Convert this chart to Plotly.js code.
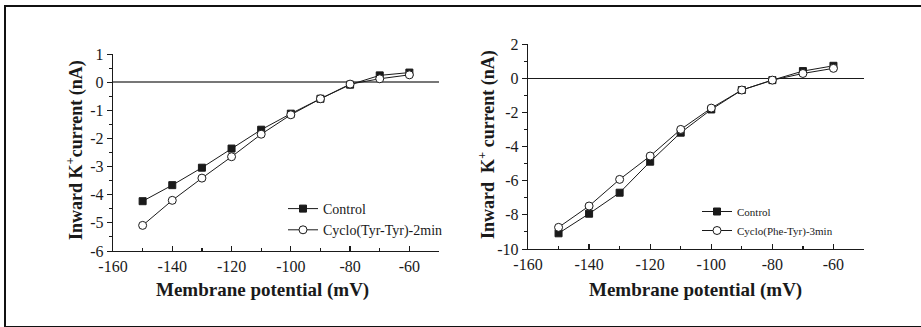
<!DOCTYPE html>
<html>
<head>
<meta charset="utf-8">
<script src="https://cdn.plot.ly/plotly-3.0.1.min.js"></script>
<style>
  html, body { margin: 0; padding: 0; background: #fff; }
  #wrap { position: relative; width: 921px; height: 327px; overflow: hidden; }
  #frame { position: absolute; left: 4px; top: 5px; width: 960px; height: 319px;
           border-top: 2px solid #111; border-left: 2px solid #111; border-bottom: 2px solid #111; }
  #chart { position: absolute; left: 0; top: 0; width: 921px; height: 327px; }
</style>
</head>
<body>
<div id="wrap">
  <div id="frame"></div>
  <div id="chart"></div>
</div>
<script>
// Membrane potential (mV)
const potential = [-150, -140, -130, -120, -110, -100, -90, -80, -70, -60];

// Left panel
const leftControl = [-4.23, -3.66, -3.04, -2.36, -1.69, -1.12, -0.59, -0.09, 0.24, 0.34];
const leftCyclo   = [-5.09, -4.20, -3.41, -2.65, -1.85, -1.16, -0.59, -0.07, 0.12, 0.26];

// Right panel
const rightControl = [-9.08, -7.93, -6.70, -4.88, -3.18, -1.82, -0.68, -0.10, 0.43, 0.74];
const rightCyclo   = [-8.73, -7.48, -5.92, -4.55, -2.99, -1.74, -0.68, -0.10, 0.29, 0.59];

// Tick values and labels
const xTickVals = [-160, -140, -120, -100, -80, -60];
const xTickText = ["-160", "-140", "-120", "-100", "-80", "-60"];
const yLeftTickVals = [-6, -5, -4, -3, -2, -1, 0, 1];
const yLeftTickText = ["-6", "-5", "-4", "-3", "-2", "-1", "0", "1"];
const yRightTickVals = [-10, -8, -6, -4, -2, 0, 2];
const yRightTickText = ["-10", "-8", "-6", "-4", "-2", "0", "2"];

const seriesNames = ["Control", "Cyclo(Tyr-Tyr)-2min", "Control", "Cyclo(Phe-Tyr)-3min"];
const xTitle = "Membrane potential (mV)";
const yTitleLeft = "Inward K<sup>+</sup>current (nA)";
const yTitleRight = "Inward  K<sup>+</sup> current (nA)";

const W = 921, H = 327;
const px = v => v / W;
const py = v => (H - v) / H;

const serif = '"Liberation Serif", "Times New Roman", serif';
const ink = "#1a1a1a";

const squareMarker = { symbol: "square", size: 7, color: ink, line: { color: ink, width: 1 } };
const circleMarker = { symbol: "circle", size: 8, color: "#fff", line: { color: ink, width: 1 } };
const lineStyle = { color: ink, width: 1 };

const traces = [
  { x: potential, y: leftControl, name: seriesNames[0], mode: "lines+markers",
    xaxis: "x", yaxis: "y", legend: "legend", line: lineStyle, marker: squareMarker },
  { x: potential, y: leftCyclo, name: seriesNames[1], mode: "lines+markers",
    xaxis: "x", yaxis: "y", legend: "legend", line: lineStyle, marker: circleMarker },
  { x: potential, y: rightControl, name: seriesNames[2], mode: "lines+markers",
    xaxis: "x2", yaxis: "y2", legend: "legend2", line: lineStyle, marker: squareMarker },
  { x: potential, y: rightCyclo, name: seriesNames[3], mode: "lines+markers",
    xaxis: "x2", yaxis: "y2", legend: "legend2", line: lineStyle, marker: circleMarker }
];

function xAxis(domain, anchor) {
  return {
    domain: domain, anchor: anchor, range: [-160, -50],
    tickmode: "array", tickvals: xTickVals, ticktext: xTickText,
    showline: true, linecolor: ink, linewidth: 1.3, mirror: false,
    ticks: "inside", ticklen: 5, tickwidth: 1.2, tickcolor: ink,
    minor: { dtick: 10, tick0: -160, ticks: "inside", ticklen: 3, tickcolor: ink, tickwidth: 1.2 },
    showgrid: false, zeroline: false, fixedrange: true,
    tickfont: { family: serif, size: 16, color: ink }
  };
}
function yAxis(domain, anchor, range, tv, tt, minorDtick, zc, zw) {
  return {
    domain: domain, anchor: anchor, range: range,
    tickmode: "array", tickvals: tv, ticktext: tt,
    showline: true, linecolor: ink, linewidth: 1.3,
    ticks: "outside", ticklen: 5, tickwidth: 1, tickcolor: ink,
    minor: { dtick: minorDtick, ticks: "outside", ticklen: 3, tickcolor: ink, tickwidth: 1 },
    showgrid: false, zeroline: true, zerolinecolor: zc, zerolinewidth: zw, fixedrange: true,
    tickfont: { family: serif, size: 16, color: ink }
  };
}

const layout = {
  width: W, height: H,
  margin: { l: 0, r: 0, t: 0, b: 0 },
  paper_bgcolor: "rgba(0,0,0,0)", plot_bgcolor: "rgba(0,0,0,0)",
  showlegend: true,
  xaxis: xAxis([px(113), px(439)], "y"),
  yaxis: yAxis([py(251), py(54)], "x", [-6, 1], yLeftTickVals, yLeftTickText, 0.5, "#777", 1.6),
  xaxis2: xAxis([px(528), px(864)], "y2"),
  yaxis2: yAxis([py(249), py(44.3)], "x2", [-10, 2], yRightTickVals, yRightTickText, 1, ink, 1),
  legend: {
    x: px(283), y: py(193), xanchor: "left", yanchor: "top",
    bgcolor: "rgba(0,0,0,0)", borderwidth: 0,
    font: { family: serif, size: 14, color: ink }, tracegroupgap: 0, itemwidth: 30
  },
  legend2: {
    x: px(697), y: py(197), xanchor: "left", yanchor: "top",
    bgcolor: "rgba(0,0,0,0)", borderwidth: 0,
    font: { family: serif, size: 11, color: ink }, tracegroupgap: 0, itemwidth: 30
  },
  annotations: [
    { text: xTitle, xref: "paper", yref: "paper", x: px(262), y: py(290),
      xanchor: "center", yanchor: "middle", showarrow: false,
      font: { family: serif, size: 19, color: ink, weight: "bold" } },
    { text: xTitle, xref: "paper", yref: "paper", x: px(695), y: py(290),
      xanchor: "center", yanchor: "middle", showarrow: false,
      font: { family: serif, size: 19, color: ink, weight: "bold" } },
    { text: yTitleLeft, xref: "paper", yref: "paper", x: px(75), y: py(150),
      xanchor: "center", yanchor: "middle", showarrow: false, textangle: -90,
      font: { family: serif, size: 18, color: ink, weight: "bold" } },
    { text: yTitleRight, xref: "paper", yref: "paper", x: px(487), y: py(145),
      xanchor: "center", yanchor: "middle", showarrow: false, textangle: -90,
      font: { family: serif, size: 18, color: ink, weight: "bold" } }
  ]
};

Plotly.newPlot("chart", traces, layout, { displayModeBar: false, staticPlot: true });
</script>
</body>
</html>
